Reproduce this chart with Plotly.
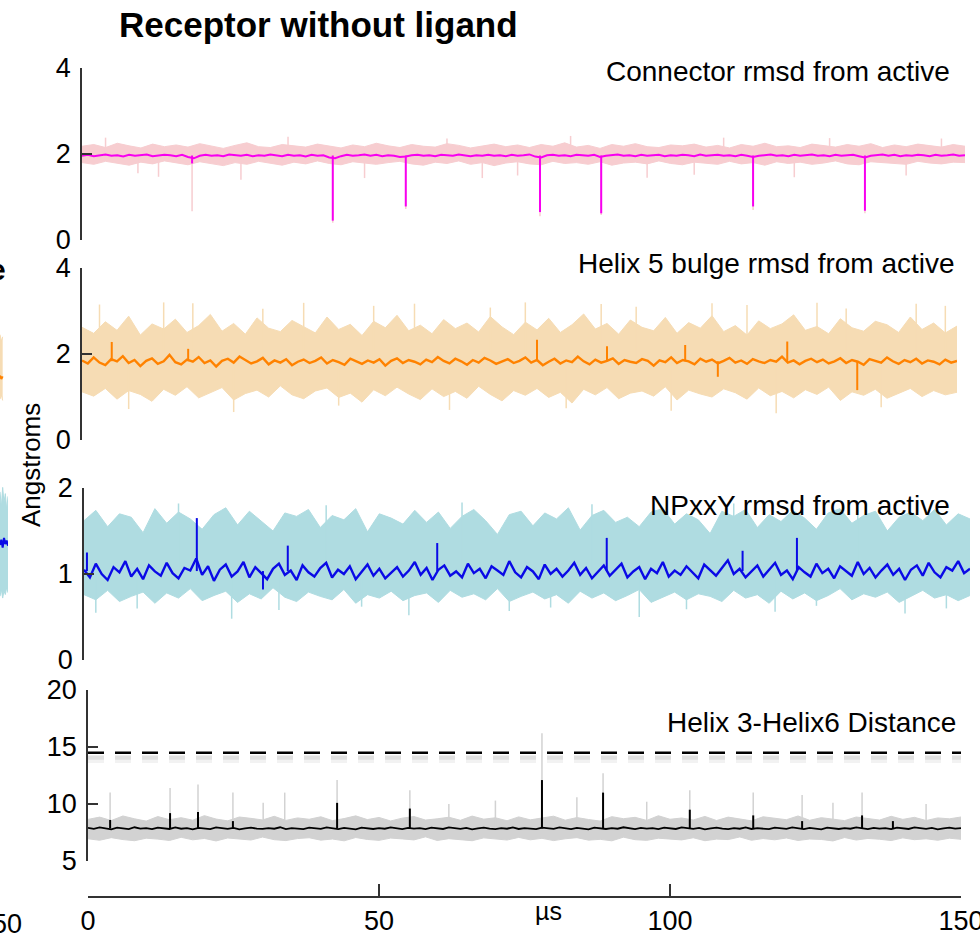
import numpy as np
import plotly.graph_objects as go

# ---------------- data ----------------
t_fine = list(range(0, 151))          # µs, dark (smoothed) traces
t_env = list(range(0, 151, 2))        # µs, light (raw) envelope

x_ticks = [0, 50, 100, 150]
x_label = "µs"
y_label = "Angstroms"
title = "Receptor without ligand"

# Connector rmsd from active
conn_label = "Connector rmsd from active"
conn_ticks = [0, 2, 4]
conn_dark = [
    1.96, 1.98, 1.95, 1.97, 1.99, 1.96, 1.97, 1.94, 1.98, 1.96,
    1.97, 1.99, 1.95, 1.96, 1.98, 1.97, 1.95, 1.98, 1.93, 1.90,
    1.96, 1.98, 1.96, 1.97, 1.95, 1.99, 1.97, 1.96, 1.98, 1.95,
    1.97, 1.96, 1.99, 1.97, 1.95, 1.98, 1.96, 1.97, 1.94, 1.98,
    1.96, 1.97, 1.92, 1.90, 1.95, 1.98, 1.96, 1.97, 1.99, 1.96,
    1.98, 1.95, 1.97, 1.96, 1.93, 1.94, 1.97, 1.98, 1.96, 1.97,
    1.95, 1.98, 1.97, 1.96, 1.99, 1.97, 1.95, 1.97, 1.96, 1.98,
    1.96, 1.97, 1.95, 1.98, 1.96, 1.97, 1.99, 1.94, 1.92, 1.97,
    1.98, 1.96, 1.97, 1.95, 1.98, 1.97, 1.96, 1.98, 1.93, 1.96,
    1.97, 1.99, 1.96, 1.97, 1.95, 1.98, 1.96, 1.97, 1.98, 1.95,
    1.97, 1.96, 1.98, 1.97, 1.95, 1.99, 1.96, 1.97, 1.98, 1.96,
    1.97, 1.95, 1.98, 1.96, 1.93, 1.96, 1.97, 1.99, 1.96, 1.97,
    1.95, 1.98, 1.96, 1.97, 1.99, 1.96, 1.97, 1.95, 1.98, 1.96,
    1.97, 1.98, 1.95, 1.92, 1.96, 1.97, 1.99, 1.96, 1.98, 1.95,
    1.97, 1.96, 1.98, 1.97, 1.95, 1.98, 1.96, 1.97, 1.99, 1.96,
    1.97]
conn_hi = [
    2.18, 2.22, 2.15, 2.25, 2.19, 2.14, 2.23, 2.17, 2.21, 2.16,
    2.24, 2.18, 2.13, 2.20, 2.26, 2.17, 2.15, 2.22, 2.19, 2.16,
    2.23, 2.18, 2.14, 2.21, 2.17, 2.25, 2.19, 2.15, 2.22, 2.18,
    2.16, 2.24, 2.20, 2.14, 2.19, 2.23, 2.17, 2.21, 2.15, 2.22,
    2.18, 2.26, 2.16, 2.20, 2.13, 2.22, 2.18, 2.24, 2.17, 2.15,
    2.21, 2.19, 2.23, 2.16, 2.20, 2.14, 2.22, 2.18, 2.25, 2.17,
    2.19, 2.15, 2.23, 2.20, 2.16, 2.22, 2.18, 2.24, 2.15, 2.21,
    2.17, 2.23, 2.19, 2.16, 2.22, 2.18]
conn_lo = [
    1.80, 1.76, 1.83, 1.78, 1.74, 1.81, 1.77, 1.84, 1.79, 1.75,
    1.82, 1.78, 1.73, 1.80, 1.76, 1.83, 1.79, 1.74, 1.81, 1.77,
    1.84, 1.78, 1.75, 1.82, 1.79, 1.76, 1.80, 1.83, 1.77, 1.74,
    1.81, 1.78, 1.84, 1.76, 1.80, 1.73, 1.79, 1.82, 1.77, 1.75,
    1.83, 1.78, 1.80, 1.76, 1.82, 1.74, 1.79, 1.81, 1.77, 1.84,
    1.78, 1.75, 1.81, 1.79, 1.76, 1.83, 1.77, 1.80, 1.74, 1.82,
    1.78, 1.81, 1.76, 1.79, 1.84, 1.77, 1.75, 1.82, 1.80, 1.78,
    1.76, 1.83, 1.79, 1.77, 1.81, 1.80]
conn_spk_t = [18.7, 42.6, 55.0, 77.8, 88.2, 114.0, 133.0]
conn_spk_v = [1.78, 0.45, 0.78, 0.65, 0.62, 0.78, 0.68]
conn_lspk_t = [4, 9.5, 13, 18.7, 27, 35, 42.6, 48, 55, 62, 68, 74, 77.8, 83,
               88.2, 96, 104, 109, 114, 121, 127, 133, 140, 146]
conn_lspk_v = [2.38, 1.55, 1.47, 0.67, 1.40, 2.40, 0.40, 1.44, 0.72, 2.36, 1.44,
               1.50, 0.55, 2.42, 0.58, 1.45, 1.52, 2.38, 0.70, 1.46, 2.37, 0.62,
               1.50, 2.36]

# Helix 5 bulge rmsd from active
h5_label = "Helix 5 bulge rmsd from active"
h5_ticks = [0, 2, 4]
h5_dark = [
    1.85, 1.78, 1.92, 1.80, 1.74, 1.88, 1.83, 1.95, 1.79, 1.86,
    1.72, 1.84, 1.90, 1.77, 1.83, 1.98, 1.81, 1.76, 1.87, 1.82,
    1.93, 1.79, 1.85, 1.71, 1.84, 1.89, 1.80, 1.94, 1.86, 1.78,
    1.83, 1.91, 1.76, 1.85, 1.80, 1.88, 1.74, 1.82, 1.87, 1.79,
    1.84, 1.92, 1.78, 1.86, 1.81, 1.75, 1.89, 1.83, 1.77, 1.85,
    1.80, 1.88, 1.73, 1.84, 1.90, 1.79, 1.86, 1.82, 1.76, 1.87,
    1.81, 1.93, 1.84, 1.78, 1.89, 1.83, 1.75, 1.86, 1.80, 1.91,
    1.85, 1.77, 1.83, 1.88, 1.79, 1.84, 1.92, 1.80, 1.86, 1.74,
    1.82, 1.89, 1.78, 1.85, 1.81, 1.94, 1.83, 1.76, 1.87, 1.80,
    1.84, 1.90, 1.77, 1.86, 1.82, 1.79, 1.88, 1.84, 1.73, 1.85,
    1.81, 1.92, 1.79, 1.86, 1.83, 1.76, 1.89, 1.82, 1.87, 1.78,
    1.84, 1.91, 1.80, 1.85, 1.77, 1.88, 1.83, 1.79, 1.86, 1.82,
    1.94, 1.80, 1.85, 1.76, 1.84, 1.89, 1.81, 1.87, 1.78, 1.83,
    1.90, 1.79, 1.86, 1.82, 1.75, 1.88, 1.84, 1.80, 1.92, 1.83,
    1.77, 1.86, 1.81, 1.89, 1.78, 1.85, 1.82, 1.76, 1.87, 1.80,
    1.84]
h5_hi = [
    2.62, 2.48, 2.75, 2.55, 2.88, 2.44, 2.70, 2.58, 2.81, 2.50,
    2.66, 2.92, 2.53, 2.71, 2.46, 2.84, 2.60, 2.52, 2.78, 2.64,
    2.49, 2.86, 2.57, 2.69, 2.43, 2.76, 2.61, 2.90, 2.54, 2.67,
    2.47, 2.80, 2.59, 2.72, 2.51, 2.87, 2.63, 2.45, 2.74, 2.56,
    2.83, 2.50, 2.68, 2.93, 2.58, 2.71, 2.46, 2.79, 2.62, 2.54,
    2.85, 2.48, 2.73, 2.60, 2.89, 2.52, 2.66, 2.44, 2.77, 2.59,
    2.70, 2.91, 2.55, 2.64, 2.47, 2.82, 2.61, 2.53, 2.76, 2.68,
    2.50, 2.86, 2.57, 2.72, 2.49, 2.65]
h5_lo = [
    1.12, 1.02, 1.20, 0.95, 1.15, 1.06, 0.90, 1.18, 1.04, 1.24,
    0.98, 1.10, 1.22, 0.93, 1.08, 1.16, 1.00, 1.26, 1.05, 0.96,
    1.14, 1.21, 0.99, 1.09, 0.88, 1.17, 1.03, 1.23, 1.07, 0.94,
    1.19, 1.01, 1.13, 0.97, 1.25, 1.06, 0.91, 1.15, 1.04, 1.20,
    0.99, 1.11, 0.86, 1.18, 1.05, 1.22, 0.96, 1.09, 1.14, 1.02,
    1.24, 0.93, 1.16, 1.07, 1.00, 1.19, 1.10, 0.95, 1.21, 1.03,
    1.13, 0.98, 1.17, 1.06, 1.23, 0.92, 1.12, 1.04, 1.18, 0.97,
    1.08, 1.20, 1.01, 1.15, 1.05, 1.11]
h5_spk_t = [5.1, 18.2, 78.0, 90.0, 103.4, 109.0, 120.9, 132.9]
h5_spk_v = [2.28, 2.12, 2.33, 2.18, 2.21, 1.47, 2.29, 1.16]
h5_lspk_t = [3, 8, 14, 19, 26, 31, 38, 44, 50, 57, 63, 70, 76, 83, 89, 95, 101,
             108, 114, 119, 126, 131, 137, 143, 148]
h5_lspk_v = [3.15, 0.72, 3.20, 3.18, 0.65, 3.05, 3.19, 0.80, 3.12, 3.17, 0.70,
             3.08, 3.20, 0.74, 3.16, 3.10, 0.68, 3.18, 3.14, 0.62, 3.19, 3.06,
             0.76, 3.17, 3.12]

# NPxxY rmsd from active
np_label = "NPxxY rmsd from active"
np_ticks = [0, 1, 2]
np_dark = [
    1.05, 0.96, 1.12, 1.00, 0.93, 1.08, 1.02, 1.15, 0.97, 1.06,
    0.94, 1.10, 1.03, 0.98, 1.13, 1.01, 0.95, 1.07, 1.04, 1.18,
    0.99, 1.09, 0.92, 1.05, 1.11, 0.97, 1.03, 1.14, 0.96, 1.08,
    1.01, 0.94, 1.06, 1.12, 0.99, 1.04, 0.93, 1.10, 1.02, 0.97,
    1.07, 1.13, 0.96, 1.05, 1.00, 1.09, 0.94, 1.03, 1.11, 0.98,
    1.06, 0.95, 1.02, 1.08, 0.97, 1.04, 1.14, 0.99, 1.07, 0.93,
    1.05, 1.10, 0.98, 1.03, 0.96, 1.12, 1.01, 1.06, 0.95, 1.09,
    1.04, 0.99, 1.15, 1.02, 0.96, 1.08, 1.03, 0.94, 1.11, 1.00,
    1.06, 0.97, 1.04, 1.13, 0.99, 1.07, 0.95, 1.02, 1.10, 0.98,
    1.05, 1.12, 0.96, 1.03, 1.08, 0.94, 1.06, 1.01, 1.14, 0.97,
    1.04, 0.99, 1.09, 1.02, 0.95, 1.11, 1.05, 0.98, 1.07, 1.16,
    1.00, 1.06, 0.96, 1.03, 1.10, 0.97, 1.05, 1.13, 0.99, 1.04,
    0.94, 1.08, 1.02, 0.97, 1.12, 1.01, 1.06, 0.95, 1.09, 1.03,
    0.98, 1.14, 1.00, 1.07, 0.96, 1.04, 1.11, 0.99, 1.06, 0.93,
    1.05, 1.10, 0.98, 1.13, 1.02, 0.96, 1.08, 1.04, 1.15, 1.01,
    1.06]
np_hi = [
    1.62, 1.74, 1.55, 1.70, 1.66, 1.48, 1.76, 1.59, 1.72, 1.64,
    1.52, 1.69, 1.77, 1.57, 1.73, 1.61, 1.50, 1.71, 1.67, 1.75,
    1.54, 1.68, 1.63, 1.76, 1.49, 1.70, 1.65, 1.58, 1.74, 1.60,
    1.72, 1.53, 1.67, 1.75, 1.62, 1.46, 1.69, 1.73, 1.56, 1.71,
    1.64, 1.77, 1.51, 1.68, 1.74, 1.60, 1.66, 1.55, 1.72, 1.76,
    1.58, 1.70, 1.63, 1.47, 1.73, 1.67, 1.75, 1.54, 1.69, 1.61,
    1.74, 1.65, 1.52, 1.71, 1.76, 1.59, 1.68, 1.73, 1.50, 1.66,
    1.72, 1.62, 1.75, 1.57, 1.70, 1.64]
np_lo = [
    0.76, 0.70, 0.81, 0.68, 0.74, 0.79, 0.66, 0.78, 0.72, 0.83,
    0.69, 0.75, 0.80, 0.67, 0.77, 0.71, 0.84, 0.73, 0.68, 0.79,
    0.74, 0.70, 0.82, 0.66, 0.76, 0.72, 0.80, 0.69, 0.75, 0.78,
    0.67, 0.81, 0.73, 0.77, 0.70, 0.83, 0.68, 0.74, 0.79, 0.71,
    0.76, 0.66, 0.80, 0.72, 0.78, 0.69, 0.75, 0.82, 0.67, 0.73,
    0.79, 0.70, 0.77, 0.74, 0.68, 0.81, 0.72, 0.76, 0.66, 0.80,
    0.71, 0.78, 0.69, 0.75, 0.83, 0.70, 0.77, 0.73, 0.79, 0.67,
    0.74, 0.81, 0.72, 0.76, 0.69, 0.75]
np_spk_t = [0.5, 19.1, 30.3, 34.5, 59.8, 88.5, 111.5, 120.7]
np_spk_v = [1.25, 1.65, 0.82, 1.33, 1.36, 1.42, 1.27, 1.42]
np_lspk_t = [2, 9, 16, 25, 33, 41, 47, 55, 64, 72, 79, 86, 94, 102, 110, 117,
             124, 131, 139, 146]
np_lspk_v = [0.55, 0.60, 1.82, 0.48, 0.58, 1.80, 0.62, 0.52, 1.83, 0.57, 0.61,
             1.81, 0.50, 0.59, 1.82, 0.56, 0.63, 1.80, 0.54, 0.60]

# Helix 3 - Helix 6 distance
h36_label = "Helix 3-Helix6 Distance"
h36_ticks = [5, 10, 15, 20]
h36_ref = 14.5
h36_dark = [
    7.90, 7.82, 7.95, 7.85, 7.78, 7.92, 7.87, 7.80, 7.96, 7.84,
    7.88, 7.79, 7.93, 7.86, 7.81, 7.94, 7.83, 7.89, 7.77, 7.91,
    7.85, 7.80, 7.95, 7.87, 7.82, 7.90, 7.78, 7.86, 7.93, 7.84,
    7.81, 7.89, 7.83, 7.96, 7.80, 7.88, 7.85, 7.79, 7.92, 7.86,
    7.82, 7.94, 7.87, 7.80, 7.90, 7.84, 7.78, 7.93, 7.85, 7.81,
    7.89, 7.83, 7.95, 7.86, 7.80, 7.91, 7.84, 7.88, 7.79, 7.92,
    7.85, 7.81, 7.94, 7.87, 7.82, 7.90, 7.78, 7.86, 7.93, 7.84,
    7.80, 7.89, 7.83, 7.95, 7.81, 7.88, 7.85, 7.79, 7.92, 7.86,
    7.82, 7.94, 7.87, 7.80, 7.90, 7.84, 7.77, 7.93, 7.85, 7.81,
    7.89, 7.83, 7.96, 7.86, 7.80, 7.91, 7.84, 7.88, 7.79, 7.92,
    7.85, 7.81, 7.94, 7.87, 7.82, 7.90, 7.78, 7.86, 7.93, 7.84,
    7.80, 7.89, 7.83, 7.95, 7.81, 7.88, 7.85, 7.79, 7.92, 7.86,
    7.82, 7.94, 7.87, 7.80, 7.90, 7.84, 7.78, 7.93, 7.85, 7.81,
    7.89, 7.83, 7.95, 7.86, 7.80, 7.91, 7.84, 7.88, 7.79, 7.92,
    7.85, 7.81, 7.94, 7.87, 7.82, 7.90, 7.78, 7.86, 7.93, 7.84,
    7.88]
h36_hi = [
    8.65, 8.85, 8.55, 8.95, 8.70, 8.50, 8.90, 8.62, 8.80, 8.58,
    8.98, 8.68, 8.52, 8.86, 8.74, 8.60, 8.92, 8.56, 8.78, 8.66,
    8.88, 8.54, 8.72, 8.96, 8.63, 8.82, 8.51, 8.76, 8.90, 8.59,
    8.70, 8.84, 8.57, 8.94, 8.67, 8.79, 8.53, 8.87, 8.61, 8.75,
    8.93, 8.58, 8.81, 8.64, 8.50, 8.89, 8.71, 8.83, 8.56, 8.97,
    8.66, 8.77, 8.60, 8.91, 8.55, 8.85, 8.69, 8.52, 8.88, 8.73,
    8.62, 8.95, 8.57, 8.80, 8.68, 8.54, 8.86, 8.74, 8.59, 8.92,
    8.65, 8.83, 8.55, 8.78, 8.70, 8.86]
h36_lo = [
    6.95, 6.82, 7.05, 6.88, 6.78, 7.00, 6.92, 6.80, 7.08, 6.86,
    6.98, 6.76, 7.02, 6.90, 6.84, 7.10, 6.87, 6.79, 6.97, 7.04,
    6.83, 6.93, 6.77, 7.06, 6.89, 6.81, 7.01, 6.94, 6.85, 7.12,
    6.80, 6.96, 6.88, 6.78, 7.03, 6.91, 6.84, 7.07, 6.86, 6.99,
    6.79, 6.95, 7.05, 6.83, 6.90, 6.77, 7.09, 6.87, 6.81, 7.00,
    6.94, 6.85, 7.04, 6.78, 6.92, 6.88, 7.11, 6.82, 6.97, 6.86,
    7.02, 6.80, 6.93, 6.89, 6.76, 7.06, 6.84, 6.98, 6.91, 6.79,
    7.03, 6.87, 6.95, 6.82, 7.00, 6.90]
h36_spk_t = [3.8, 14.1, 18.9, 24.9, 42.8, 55.3, 78.0, 88.5, 103.4, 114.3,
             122.7, 133.0, 138.3]
h36_spk_v = [8.6, 9.2, 9.3, 8.5, 10.1, 9.6, 12.1, 11.0, 9.5, 9.0, 8.5, 9.0, 8.5]
h36_lspk_t = [3.8, 14.1, 18.9, 24.9, 30.1, 33.8, 42.8, 55.3, 62, 70, 78.0, 84,
              88.5, 96, 103.4, 114.3, 122.7, 128, 133.0, 144]
h36_lspk_v = [11.0, 11.4, 11.7, 11.0, 10.1, 11.0, 12.1, 11.2, 10.0, 10.3, 16.2,
              10.6, 12.7, 10.2, 11.2, 11.0, 10.8, 10.1, 11.0, 10.0]

# neighbouring (cut-off) panel at the left edge
left_t = [0, 1, 2, 3, 4, 5, 6]
left_np_dark = [1.30, 1.36, 1.27, 1.38, 1.31, 1.35, 1.29]
left_np_hi = [1.90, 1.72, 1.95, 1.78, 1.88, 1.70, 1.85]
left_np_lo = [0.72, 0.80, 0.70, 0.78, 0.74, 0.82, 0.76]
left_h5_t = [0, 1, 2]
left_h5_dark = [1.50, 1.42, 1.48]
left_h5_hi = [2.45, 2.30, 2.40]
left_h5_lo = [0.95, 1.05, 0.92]
left_texts = ["e", "150"]

# ---------------- figure ----------------
W, H = 980, 951
FONT = "Liberation Sans, Arial, Helvetica, sans-serif"
AX = "#333333"


def fx(p):
    return p / W


def fy(p):
    return 1 - p / H


panels = [
    dict(label=conn_label, ticks=conn_ticks, dark=conn_dark, hi=conn_hi, lo=conn_lo,
         st=conn_spk_t, sv=conn_spk_v, lt=conn_lspk_t, lv=conn_lspk_v,
         c_dark="#f800f0", c_light="#f7cdd0", xdom=(82, 965), ydom=(240, 68),
         lab=(952, 72), w=2.0),
    dict(label=h5_label, ticks=h5_ticks, dark=h5_dark, hi=h5_hi, lo=h5_lo,
         st=h5_spk_t, sv=h5_spk_v, lt=h5_lspk_t, lv=h5_lspk_v,
         c_dark="#ff8200", c_light="#f6dcb4", xdom=(82, 957), ydom=(440, 268),
         lab=(957, 263), w=2.4),
    dict(label=np_label, ticks=np_ticks, dark=np_dark, hi=np_hi, lo=np_lo,
         st=np_spk_t, sv=np_spk_v, lt=np_lspk_t, lv=np_lspk_v,
         c_dark="#0a0ae6", c_light="#afdce1", xdom=(84, 970), ydom=(660, 488),
         lab=(952, 505), w=2.4),
    dict(label=h36_label, ticks=h36_ticks, dark=h36_dark, hi=h36_hi, lo=h36_lo,
         st=h36_spk_t, sv=h36_spk_v, lt=h36_lspk_t, lv=h36_lspk_v,
         c_dark="#000000", c_light="#d2d2d2", xdom=(88, 961), ydom=(861, 690),
         lab=(958, 722), w=1.8),
]


def spikes(ts, vs, base):
    xs, ys = [], []
    for t, v in zip(ts, vs):
        xs += [t, t, None]
        ys += [base, v, None]
    return xs, ys


fig = go.Figure()
layout = {}
annotations = []

for i, p in enumerate(panels):
    n = i + 1
    xa = "x" if n == 1 else f"x{n}"
    ya = "y" if n == 1 else f"y{n}"
    base = float(np.mean(p["dark"]))
    # light raw band
    fig.add_trace(go.Scatter(x=t_env, y=p["lo"], mode="lines", xaxis=xa, yaxis=ya,
                             line=dict(color=p["c_light"], width=1),
                             showlegend=False, hoverinfo="skip"))
    fig.add_trace(go.Scatter(x=t_env, y=p["hi"], mode="lines", xaxis=xa, yaxis=ya,
                             fill="tonexty", fillcolor=p["c_light"],
                             line=dict(color=p["c_light"], width=1),
                             showlegend=False, hoverinfo="skip"))
    sx, sy = spikes(p["lt"], p["lv"], base)
    fig.add_trace(go.Scatter(x=sx, y=sy, mode="lines", xaxis=xa, yaxis=ya,
                             line=dict(color=p["c_light"], width=1.5), showlegend=False,
                             hoverinfo="skip"))
    if n == 4:
        for off, w, col in [(-0.55, 8, "rgba(0,0,0,0.05)"), (-0.45, 4, "rgba(0,0,0,0.07)")]:
            fig.add_trace(go.Scatter(x=[0, 150], y=[h36_ref + off] * 2, mode="lines",
                                     xaxis=xa, yaxis=ya, showlegend=False,
                                     line=dict(color=col, width=w, dash="16px,11px"),
                                     hoverinfo="skip"))
        fig.add_trace(go.Scatter(x=[0, 150], y=[h36_ref] * 2, mode="lines",
                                 xaxis=xa, yaxis=ya, showlegend=False,
                                 line=dict(color="#000000", width=2.5, dash="16px,11px"),
                                 hoverinfo="skip"))
    # dark smoothed trace
    fig.add_trace(go.Scatter(x=t_fine, y=p["dark"], mode="lines", xaxis=xa, yaxis=ya,
                             line=dict(color=p["c_dark"], width=p["w"]), showlegend=False))
    sx, sy = spikes(p["st"], p["sv"], base)
    fig.add_trace(go.Scatter(x=sx, y=sy, mode="lines", xaxis=xa, yaxis=ya,
                             line=dict(color=p["c_dark"], width=2), showlegend=False,
                             hoverinfo="skip"))

    xkey = "xaxis" if n == 1 else f"xaxis{n}"
    ykey = "yaxis" if n == 1 else f"yaxis{n}"
    xd = [fx(p["xdom"][0]), fx(p["xdom"][1])]
    yd = [fy(p["ydom"][0]), fy(p["ydom"][1])]
    layout[ykey] = dict(domain=yd, range=[p["ticks"][0], p["ticks"][-1]],
                        anchor=xa, tickvals=p["ticks"], showline=True, linecolor=AX,
                        linewidth=1.5, ticks="inside", ticklen=10, tickwidth=1.5,
                        tickcolor=AX, showgrid=False, zeroline=False, automargin=False,
                        tickfont=dict(family=FONT, size=27, color="#000"),
                        ticklabelstandoff=4, fixedrange=True)
    if n < 4:
        layout[xkey] = dict(domain=xd, range=[0, 150], anchor=ya, visible=False,
                            automargin=False, fixedrange=True)
    else:
        layout[xkey] = dict(domain=xd, range=[0, 150], anchor="free",
                            position=fy(897), tickvals=x_ticks, showline=True,
                            linecolor=AX, linewidth=1.5, ticks="inside", ticklen=12,
                            tickwidth=1.5, tickcolor=AX, showgrid=False,
                            zeroline=False, ticklabelstandoff=0, automargin=False,
                            ticklabeloverflow="allow",
                            tickfont=dict(family=FONT, size=27, color="#000"),
                            fixedrange=True)
    annotations.append(dict(text=p["label"], x=fx(p["lab"][0]), y=fy(p["lab"][1]),
                            xref="paper", yref="paper", xanchor="right",
                            yanchor="middle", showarrow=False,
                            font=dict(family=FONT, size=28, color="#000")))

# cut-off neighbour panel
fig.add_trace(go.Scatter(x=left_t, y=left_np_lo, mode="lines", xaxis="x5", yaxis="y5",
                         line=dict(color="#afdce1", width=1), showlegend=False))
fig.add_trace(go.Scatter(x=left_t, y=left_np_hi, mode="lines", xaxis="x5", yaxis="y5",
                         fill="tonexty", fillcolor="#afdce1",
                         line=dict(color="#afdce1", width=1), showlegend=False))
fig.add_trace(go.Scatter(x=left_t, y=left_np_dark, mode="lines", xaxis="x5", yaxis="y5",
                         line=dict(color="#0a0ae6", width=2), showlegend=False))
fig.add_trace(go.Scatter(x=left_h5_t, y=left_h5_lo, mode="lines", xaxis="x5", yaxis="y6",
                         line=dict(color="#f6dcb4", width=1), showlegend=False))
fig.add_trace(go.Scatter(x=left_h5_t, y=left_h5_hi, mode="lines", xaxis="x5", yaxis="y6",
                         fill="tonexty", fillcolor="#f6dcb4",
                         line=dict(color="#f6dcb4", width=1), showlegend=False))
fig.add_trace(go.Scatter(x=left_h5_t, y=left_h5_dark, mode="lines", xaxis="x5", yaxis="y6",
                         line=dict(color="#ff8200", width=2), showlegend=False))
layout["xaxis5"] = dict(domain=[0, fx(8)], range=[0, 6], anchor="y5", visible=False,
                        automargin=False)
layout["yaxis5"] = dict(domain=[fy(660), fy(483)], range=[0, 2], anchor="x5",
                        visible=False, automargin=False)
layout["yaxis6"] = dict(domain=[fy(440), fy(268)], range=[0, 4], anchor="x5",
                        visible=False, automargin=False)

annotations += [
    dict(text=f"<b>{title}</b>", x=fx(117), y=fy(25), xref="paper", yref="paper",
         xanchor="left", yanchor="middle", showarrow=False,
         font=dict(family=FONT, size=35, color="#000")),
    dict(text=y_label, x=fx(31), y=fy(465), xref="paper", yref="paper",
         xanchor="center", yanchor="middle", textangle=-90, showarrow=False,
         font=dict(family=FONT, size=26, color="#000")),
    dict(text=x_label, x=fx(548), y=fy(911), xref="paper", yref="paper",
         xanchor="center", yanchor="middle", showarrow=False,
         font=dict(family=FONT, size=25, color="#000")),
    dict(text=f"<b>{left_texts[0]}</b>", x=fx(8), y=fy(269), xref="paper", yref="paper",
         xanchor="right", yanchor="middle", showarrow=False,
         font=dict(family=FONT, size=30, color="#000")),
    dict(text=left_texts[1], x=fx(24), y=fy(924), xref="paper", yref="paper",
         xanchor="right", yanchor="middle", showarrow=False,
         font=dict(family=FONT, size=27, color="#000")),
]

fig.update_layout(width=W, height=H, margin=dict(l=0, r=0, t=0, b=0, autoexpand=False),
                  paper_bgcolor="white", plot_bgcolor="rgba(0,0,0,0)",
                  showlegend=False, annotations=annotations, **layout)

fig.write_html("out.html", config={"displayModeBar": False})
